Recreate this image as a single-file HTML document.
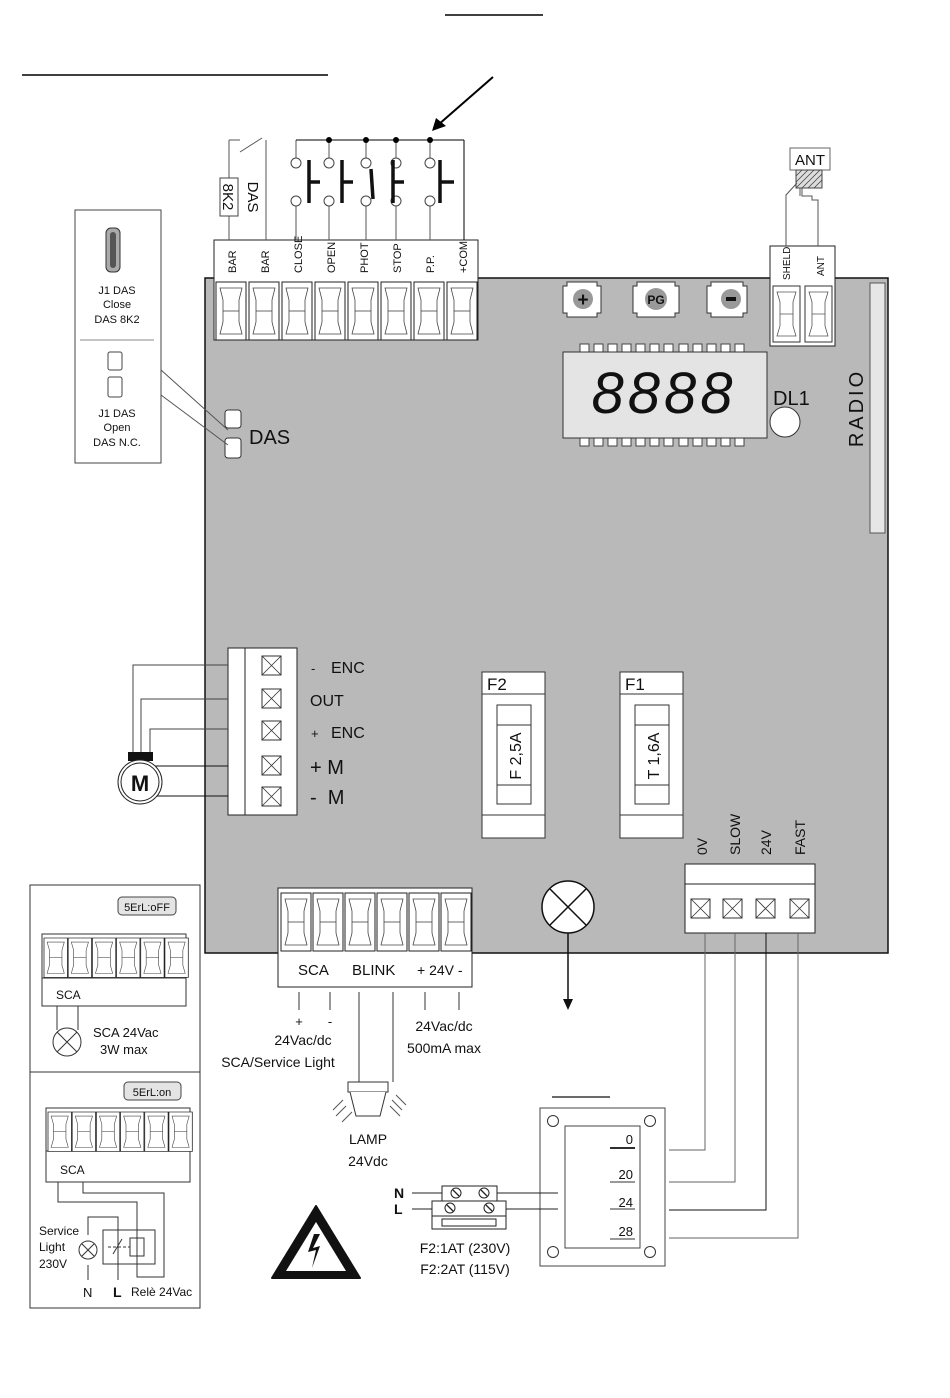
<!DOCTYPE html>
<html><head><meta charset="utf-8"><style>
html,body{margin:0;padding:0;background:#fff}
svg{display:block}
text{font-family:"Liberation Sans",sans-serif;fill:#111}
</style></head><body>
<svg width="950" height="1398" viewBox="0 0 950 1398" xmlns="http://www.w3.org/2000/svg">
<defs>
<g id="term">
<rect x="0" y="0" width="30" height="58" fill="#fff" stroke="#222" stroke-width="1"/>
<path d="M4 6 L26 6 L23 18 L23 40 L26 52 L4 52 L7 40 L7 18 Z" fill="#fff" stroke="#444" stroke-width="0.8"/>
<line x1="7" y1="29" x2="23" y2="29" stroke="#444" stroke-width="0.8"/>
</g>
<g id="xbox">
<rect x="0" y="0" width="19" height="19" fill="#fff" stroke="#333"/>
<path d="M0 0 L19 19 M19 0 L0 19" stroke="#333" stroke-width="0.8"/>
</g>
</defs>

<!-- header lines -->
<line x1="445" y1="15" x2="543" y2="15" stroke="#000" stroke-width="1.5"/>
<line x1="22" y1="75" x2="328" y2="75" stroke="#000" stroke-width="1.5"/>
<line x1="493" y1="77" x2="438" y2="125" stroke="#000" stroke-width="2"/>
<polygon points="432,131 436,118 446,126" fill="#000"/>

<!-- board -->
<rect x="205" y="278" width="683" height="675" fill="#b9b9b9" stroke="#111" stroke-width="1.5"/>

<!-- top terminal block -->
<rect x="214" y="240" width="264" height="100" fill="#fff" stroke="#222"/>
<g>
<use href="#term" x="216" y="282"/><use href="#term" x="249" y="282"/><use href="#term" x="282" y="282"/><use href="#term" x="315" y="282"/>
<use href="#term" x="348" y="282"/><use href="#term" x="381" y="282"/><use href="#term" x="414" y="282"/><use href="#term" x="447" y="282"/>
</g>
<g font-size="11">
<text transform="translate(236,273) rotate(-90)">BAR</text>
<text transform="translate(269,273) rotate(-90)">BAR</text>
<text transform="translate(302,273) rotate(-90)">CLOSE</text>
<text transform="translate(335,273) rotate(-90)">OPEN</text>
<text transform="translate(368,273) rotate(-90)">PHOT</text>
<text transform="translate(401,273) rotate(-90)">STOP</text>
<text transform="translate(434,273) rotate(-90)">P.P.</text>
<text transform="translate(467,273) rotate(-90)">+COM</text>
</g>
<!-- DAS wiring -->
<g stroke="#555" fill="none" stroke-width="1">
<line x1="229" y1="240" x2="229" y2="215"/>
<line x1="229" y1="178" x2="229" y2="140"/>
<line x1="229" y1="140" x2="240" y2="140"/>
<line x1="240" y1="152" x2="262" y2="138"/>
<line x1="266" y1="140" x2="266" y2="240"/>
<line x1="296" y1="140" x2="296" y2="158"/>
<line x1="296" y1="140" x2="464" y2="140" stroke="#000"/>
<line x1="464" y1="140" x2="464" y2="240" stroke="#000"/>
<line x1="296" y1="206" x2="296" y2="240"/>
<line x1="329" y1="140" x2="329" y2="158"/><line x1="329" y1="206" x2="329" y2="240"/>
<line x1="366" y1="140" x2="366" y2="158"/><line x1="366" y1="206" x2="366" y2="240"/>
<line x1="396" y1="140" x2="396" y2="158"/><line x1="396" y1="206" x2="396" y2="240"/>
<line x1="430" y1="140" x2="430" y2="158"/><line x1="430" y1="206" x2="430" y2="240"/>
</g>
<rect x="220" y="178" width="18" height="38" fill="#fff" stroke="#444"/>
<text transform="translate(223,197) rotate(90)" text-anchor="middle" font-size="15">8K2</text>
<text transform="translate(248,197) rotate(90)" text-anchor="middle" font-size="15">DAS</text>
<g fill="#000"><circle cx="329" cy="140" r="3"/><circle cx="366" cy="140" r="3"/><circle cx="396" cy="140" r="3"/><circle cx="430" cy="140" r="3"/></g>
<g fill="#fff" stroke="#444">
<circle cx="296" cy="163" r="5"/><circle cx="296" cy="201" r="5"/>
<circle cx="329" cy="163" r="5"/><circle cx="329" cy="201" r="5"/>
<circle cx="366" cy="163" r="5"/><circle cx="366" cy="201" r="5"/>
<circle cx="396" cy="163" r="5"/><circle cx="396" cy="201" r="5"/>
<circle cx="430" cy="163" r="5"/><circle cx="430" cy="201" r="5"/>
</g>
<g stroke="#111" stroke-width="3.5" fill="none">
<path d="M309 160 V203 M309 182 H320"/>
<path d="M342 160 V203 M342 182 H353"/>
<path d="M371 169 L373 199"/>
<path d="M393 160 V203 M393 182 H404"/>
<path d="M440 160 V203 M440 182 H454"/>
</g>

<!-- buttons -->
<g fill="#fff" stroke="#333">
<path d="M563 286 h4 v-4 h30 v4 h4 v27 h-4 v4 h-30 v-4 h-4 z"/>
<path d="M633 286 h4 v-4 h38 v4 h4 v27 h-4 v4 h-38 v-4 h-4 z"/>
<path d="M707 286 h4 v-4 h32 v4 h4 v27 h-4 v4 h-32 v-4 h-4 z"/>
</g>
<circle cx="583" cy="299" r="10" fill="#999"/><text x="583" y="306" text-anchor="middle" font-size="19" font-weight="bold">+</text>
<circle cx="656" cy="299" r="11" fill="#999"/><text x="656" y="304" text-anchor="middle" font-size="12" font-weight="bold">PG</text>
<circle cx="731" cy="299" r="10" fill="#999"/><rect x="726" y="297" width="10" height="4" fill="#111"/>

<!-- SHELD/ANT -->
<rect x="770" y="246" width="65" height="100" fill="#fff" stroke="#222"/>
<rect x="773" y="286" width="27" height="56" fill="#fff" stroke="#333"/>
<rect x="805" y="286" width="27" height="56" fill="#fff" stroke="#333"/>
<path d="M777 292 h19 l-3 10 v24 l3 10 h-19 l3 -10 v-24z M780 314 h13" fill="none" stroke="#555" stroke-width="0.8"/>
<path d="M809 292 h19 l-3 10 v24 l3 10 h-19 l3 -10 v-24z M812 314 h13" fill="none" stroke="#555" stroke-width="0.8"/>
<text transform="translate(790,280) rotate(-90)" font-size="10">SHELD</text>
<text transform="translate(824,276) rotate(-90)" font-size="10">ANT</text>
<rect x="790" y="148" width="40" height="22" fill="#fff" stroke="#666"/>
<text x="810" y="165" text-anchor="middle" font-size="15">ANT</text>
<rect x="796" y="170" width="26" height="18" fill="#ddd" stroke="#444"/>
<path d="M796 176 l6 -6 M796 182 l12 -12 M796 188 l18 -18 M802 188 l18 -18 M808 188 l14 -14 M814 188 l8 -8" stroke="#444" stroke-width="0.8"/>
<path d="M797 183 L786 195 V246 M802 188 V196 H812 V200 H818 V246 M800 188 v8" fill="none" stroke="#555"/>

<!-- display -->
<g fill="#fff" stroke="#444">
<rect x="580" y="344" width="9" height="9"/><rect x="594" y="344" width="9" height="9"/><rect x="608" y="344" width="9" height="9"/><rect x="622" y="344" width="9" height="9"/><rect x="636" y="344" width="9" height="9"/><rect x="650" y="344" width="9" height="9"/><rect x="664" y="344" width="9" height="9"/><rect x="679" y="344" width="9" height="9"/><rect x="693" y="344" width="9" height="9"/><rect x="707" y="344" width="9" height="9"/><rect x="721" y="344" width="9" height="9"/><rect x="735" y="344" width="9" height="9"/>
<rect x="580" y="437" width="9" height="9"/><rect x="594" y="437" width="9" height="9"/><rect x="608" y="437" width="9" height="9"/><rect x="622" y="437" width="9" height="9"/><rect x="636" y="437" width="9" height="9"/><rect x="650" y="437" width="9" height="9"/><rect x="664" y="437" width="9" height="9"/><rect x="679" y="437" width="9" height="9"/><rect x="693" y="437" width="9" height="9"/><rect x="707" y="437" width="9" height="9"/><rect x="721" y="437" width="9" height="9"/><rect x="735" y="437" width="9" height="9"/>
</g>
<rect x="563" y="352" width="204" height="86" fill="#e4e4e4" stroke="#333"/>
<text x="664" y="413" text-anchor="middle" font-size="58" font-style="italic" font-family="Liberation Mono, monospace" letter-spacing="4">8888</text>
<circle cx="785" cy="422" r="15" fill="#fff" stroke="#333"/>
<text x="773" y="405" font-size="20">DL1</text>
<rect x="870" y="283" width="15" height="250" fill="#e6e6e6" stroke="#555"/>
<text transform="translate(863,408) rotate(-90)" text-anchor="middle" font-size="20" letter-spacing="3">RADIO</text>

<!-- DAS jumper & legend -->
<rect x="225" y="410" width="16" height="18" rx="3" fill="#fff" stroke="#333"/>
<rect x="225" y="438" width="16" height="20" rx="3" fill="#fff" stroke="#333"/>
<text x="249" y="444" font-size="20">DAS</text>
<path d="M161 370 L228 430 M161 395 L228 445" stroke="#555"/>
<rect x="75" y="210" width="86" height="253" fill="#fff" stroke="#444"/>
<rect x="106" y="228" width="14" height="44" rx="5" fill="#aaa" stroke="#333"/>
<rect x="110" y="232" width="6" height="36" rx="3" fill="#555"/>
<text x="117" y="294" text-anchor="middle" font-size="11">J1 DAS</text>
<text x="117" y="308" text-anchor="middle" font-size="11">Close</text>
<text x="117" y="323" text-anchor="middle" font-size="11">DAS 8K2</text>
<line x1="80" y1="340" x2="154" y2="340" stroke="#888"/>
<rect x="108" y="352" width="14" height="18" rx="2" fill="#fff" stroke="#444"/>
<rect x="108" y="377" width="14" height="20" rx="2" fill="#fff" stroke="#444"/>
<text x="117" y="417" text-anchor="middle" font-size="11">J1 DAS</text>
<text x="117" y="431" text-anchor="middle" font-size="11">Open</text>
<text x="117" y="446" text-anchor="middle" font-size="11">DAS N.C.</text>

<!-- motor terminal -->
<rect x="228" y="648" width="69" height="167" fill="#fff" stroke="#222"/>
<line x1="245" y1="648" x2="245" y2="815" stroke="#222"/>
<use href="#xbox" x="262" y="656"/><use href="#xbox" x="262" y="689"/><use href="#xbox" x="262" y="721"/><use href="#xbox" x="262" y="756"/><use href="#xbox" x="262" y="787"/>
<g font-size="16" fill="#222">
<text x="311" y="673" font-size="13">-</text><text x="331" y="673">ENC</text>
<text x="310" y="706">OUT</text>
<text x="311" y="738" font-size="13">+</text><text x="331" y="738">ENC</text>
<text x="310" y="774" font-size="20">+ M</text>
<text x="310" y="804" font-size="20">-&#160;&#160;M</text>
</g>
<g fill="none" stroke="#444">
<path d="M133 752 V665 H228"/>
<path d="M141 752 V699 H228"/>
<path d="M150 752 V729 H228"/>
</g>
<path d="M150 766 H228 M150 796 H228" stroke="#111"/>
<rect x="128" y="752" width="25" height="9" fill="#111"/>
<circle cx="140" cy="782" r="22" fill="#fff" stroke="#222"/>
<circle cx="140" cy="782" r="19" fill="#fff" stroke="#222"/>
<text x="140" y="791" text-anchor="middle" font-size="22" font-weight="bold">M</text>

<!-- fuses -->
<g stroke="#333" fill="#fff">
<rect x="482" y="672" width="63" height="166"/><line x1="482" y1="694" x2="545" y2="694"/><line x1="482" y1="815" x2="545" y2="815"/>
<rect x="497" y="705" width="34" height="99"/><line x1="497" y1="725" x2="531" y2="725"/><line x1="497" y1="785" x2="531" y2="785"/>
<rect x="620" y="672" width="63" height="166"/><line x1="620" y1="694" x2="683" y2="694"/><line x1="620" y1="815" x2="683" y2="815"/>
<rect x="635" y="705" width="34" height="99"/><line x1="635" y1="725" x2="669" y2="725"/><line x1="635" y1="785" x2="669" y2="785"/>
</g>
<text x="487" y="690" font-size="17">F2</text>
<text x="625" y="690" font-size="17">F1</text>
<text transform="translate(521,756) rotate(-90)" text-anchor="middle" font-size="16">F 2,5A</text>
<text transform="translate(659,756) rotate(-90)" text-anchor="middle" font-size="16">T 1,6A</text>

<!-- 0V SLOW block -->
<rect x="685" y="864" width="130" height="69" fill="#fff" stroke="#222"/>
<line x1="685" y1="884" x2="815" y2="884" stroke="#222"/>
<use href="#xbox" x="691" y="899"/><use href="#xbox" x="723" y="899"/><use href="#xbox" x="756" y="899"/><use href="#xbox" x="790" y="899"/>
<g font-size="14">
<text transform="translate(707,855) rotate(-90)">0V</text>
<text transform="translate(740,855) rotate(-90)">SLOW</text>
<text transform="translate(771,855) rotate(-90)">24V</text>
<text transform="translate(805,855) rotate(-90)">FAST</text>
</g>

<!-- lamp circle -->
<circle cx="568" cy="907" r="26" fill="#fff" stroke="#111" stroke-width="1.5"/>
<path d="M550 889 L586 925 M586 889 L550 925" stroke="#111" stroke-width="1.5"/>
<line x1="568" y1="933" x2="568" y2="1000" stroke="#111" stroke-width="1.5"/>
<polygon points="563,999 573,999 568,1010" fill="#111"/>

<!-- bottom terminal block -->
<rect x="278" y="888" width="194" height="99" fill="#fff" stroke="#222"/>
<use href="#term" x="281" y="893"/><use href="#term" x="313" y="893"/><use href="#term" x="345" y="893"/><use href="#term" x="377" y="893"/><use href="#term" x="409" y="893"/><use href="#term" x="441" y="893"/>
<text x="298" y="975" font-size="15">SCA</text>
<text x="352" y="975" font-size="15">BLINK</text>
<text x="417" y="975" font-size="14">+ 24V -</text>
<g stroke="#333"><line x1="299" y1="992" x2="299" y2="1010"/><line x1="330" y1="992" x2="330" y2="1010"/><line x1="425" y1="992" x2="425" y2="1010"/><line x1="459" y1="992" x2="459" y2="1010"/></g>
<text x="299" y="1026" text-anchor="middle" font-size="13">+</text><text x="330" y="1026" text-anchor="middle" font-size="13">-</text>
<text x="303" y="1045" text-anchor="middle" font-size="14">24Vac/dc</text>
<text x="278" y="1067" text-anchor="middle" font-size="14">SCA/Service Light</text>
<text x="444" y="1031" text-anchor="middle" font-size="14">24Vac/dc</text>
<text x="444" y="1053" text-anchor="middle" font-size="14">500mA max</text>
<path d="M359 992 V1082 M393 992 V1082" stroke="#333" fill="none"/>
<rect x="348" y="1082" width="40" height="10" fill="#fff" stroke="#333"/>
<path d="M350 1092 L356 1116 H380 L386 1092" fill="#fff" stroke="#333"/>
<path d="M333 1110 l10 -10 M336 1116 l10 -10 M342 1122 l10 -10 M392 1100 l10 10 M396 1095 l10 10 M390 1106 l10 10" stroke="#555"/>
<text x="368" y="1144" text-anchor="middle" font-size="14">LAMP</text>
<text x="368" y="1166" text-anchor="middle" font-size="14">24Vdc</text>

<!-- warning triangle -->
<path d="M316 1206 L360 1278 H272 Z" fill="#111" stroke="#111" stroke-width="2" stroke-linejoin="round"/>
<path d="M316 1222 L346 1271 H286 Z" fill="#fff"/>
<path d="M314 1234 L308 1252 L316 1250 L312 1268 L320 1246 L313 1248 L320 1234Z" fill="#111"/>

<!-- left inset -->
<rect x="30" y="885" width="170" height="423" fill="#fff" stroke="#333"/>
<line x1="30" y1="1072" x2="200" y2="1072" stroke="#333"/>
<rect x="118" y="897" width="58" height="18" rx="4" fill="#e4e4e4" stroke="#444"/>
<text x="147" y="911" text-anchor="middle" font-size="11" font-family="Liberation Mono, monospace">5ErL:oFF</text>
<rect x="42" y="934" width="144" height="72" fill="#fff" stroke="#333"/>
<line x1="42" y1="978" x2="186" y2="978" stroke="#333"/>
<g transform="translate(44,938) scale(0.78,0.68)"><use href="#term" x="0" y="0"/><use href="#term" x="31" y="0"/><use href="#term" x="62" y="0"/><use href="#term" x="93" y="0"/><use href="#term" x="124" y="0"/><use href="#term" x="155" y="0"/></g>
<text x="56" y="999" font-size="12">SCA</text>
<path d="M57 1006 V1030 M78 1006 V1030" stroke="#333"/>
<circle cx="67" cy="1042" r="14" fill="#fff" stroke="#333"/>
<path d="M57 1032 L77 1052 M77 1032 L57 1052" stroke="#333"/>
<text x="93" y="1037" font-size="13">SCA 24Vac</text>
<text x="100" y="1054" font-size="13">3W max</text>
<rect x="124" y="1082" width="57" height="18" rx="4" fill="#e4e4e4" stroke="#444"/>
<text x="152" y="1096" text-anchor="middle" font-size="11" font-family="Liberation Mono, monospace">5ErL:on</text>
<rect x="46" y="1108" width="144" height="74" fill="#fff" stroke="#333"/>
<line x1="46" y1="1151" x2="190" y2="1151" stroke="#333"/>
<g transform="translate(48,1112) scale(0.78,0.68)"><use href="#term" x="0" y="0"/><use href="#term" x="31" y="0"/><use href="#term" x="62" y="0"/><use href="#term" x="93" y="0"/><use href="#term" x="124" y="0"/><use href="#term" x="155" y="0"/></g>
<text x="60" y="1174" font-size="12">SCA</text>
<g fill="none" stroke="#333">
<path d="M58 1182 V1202 H137 V1277 H164 V1193 H83 V1182"/>
<path d="M88 1280 V1265 M88 1235 V1217 H118 V1280"/>
<rect x="103" y="1230" width="52" height="34"/>
<rect x="130" y="1238" width="14" height="18"/>
<path d="M108 1247 H130" stroke-dasharray="3 2"/>
<path d="M113 1254 L122 1239"/>
</g>
<circle cx="88" cy="1250" r="9" fill="#fff" stroke="#333"/>
<path d="M82 1244 L94 1256 M94 1244 L82 1256" stroke="#333"/>
<text x="39" y="1235" font-size="12">Service</text>
<text x="39" y="1251" font-size="12">Light</text>
<text x="39" y="1268" font-size="12">230V</text>
<text x="83" y="1297" font-size="13">N</text>
<text x="113" y="1297" font-size="14" font-weight="bold">L</text>
<text x="131" y="1296" font-size="12">Relè 24Vac</text>

<!-- transformer -->
<line x1="552" y1="1097" x2="610" y2="1097" stroke="#111" stroke-width="1.2"/>
<rect x="540" y="1108" width="125" height="158" fill="#fff" stroke="#444"/>
<rect x="565" y="1126" width="75" height="122" fill="#fff" stroke="#444"/>
<g fill="#fff" stroke="#333"><circle cx="553" cy="1121" r="5.5"/><circle cx="650" cy="1121" r="5.5"/><circle cx="553" cy="1252" r="5.5"/><circle cx="650" cy="1252" r="5.5"/></g>
<g font-size="13" text-anchor="end"><text x="633" y="1144">0</text><text x="633" y="1179">20</text><text x="633" y="1207">24</text><text x="633" y="1236">28</text></g>
<line x1="610" y1="1148" x2="635" y2="1148" stroke="#111" stroke-width="1.8"/>
<g stroke="#333"><line x1="610" y1="1182" x2="635" y2="1182"/><line x1="610" y1="1209" x2="635" y2="1209"/><line x1="610" y1="1239" x2="635" y2="1239"/></g>
<g fill="none" stroke="#666">
<path d="M705 933 V1150 H669"/>
<path d="M735 933 V1182 H669"/>
<path d="M798 933 V1238 H669"/>
</g>
<path d="M766 933 V1210 H669" fill="none" stroke="#111"/>

<!-- mains -->
<text x="394" y="1198" font-size="14" font-weight="bold">N</text>
<text x="394" y="1214" font-size="14" font-weight="bold">L</text>
<path d="M412 1193 H442 M412 1209 H432 M497 1193 H558 M506 1209 H558" stroke="#222"/>
<rect x="442" y="1186" width="55" height="15" fill="#fff" stroke="#222"/>
<rect x="432" y="1201" width="74" height="15" fill="#fff" stroke="#222"/>
<rect x="432" y="1216" width="74" height="13" fill="#fff" stroke="#222"/>
<rect x="442" y="1219" width="54" height="7" fill="#fff" stroke="#222"/>
<g fill="#fff" stroke="#222"><circle cx="456" cy="1193" r="5"/><circle cx="484" cy="1193" r="5"/><circle cx="450" cy="1208" r="5"/><circle cx="489" cy="1208" r="5"/></g>
<path d="M453 1190 l6 6 M481 1190 l6 6 M447 1205 l6 6 M486 1205 l6 6" stroke="#222" stroke-width="1.3"/>
<text x="465" y="1253" text-anchor="middle" font-size="14">F2:1AT (230V)</text>
<text x="465" y="1274" text-anchor="middle" font-size="14">F2:2AT (115V)</text>
</svg>
</body></html>
